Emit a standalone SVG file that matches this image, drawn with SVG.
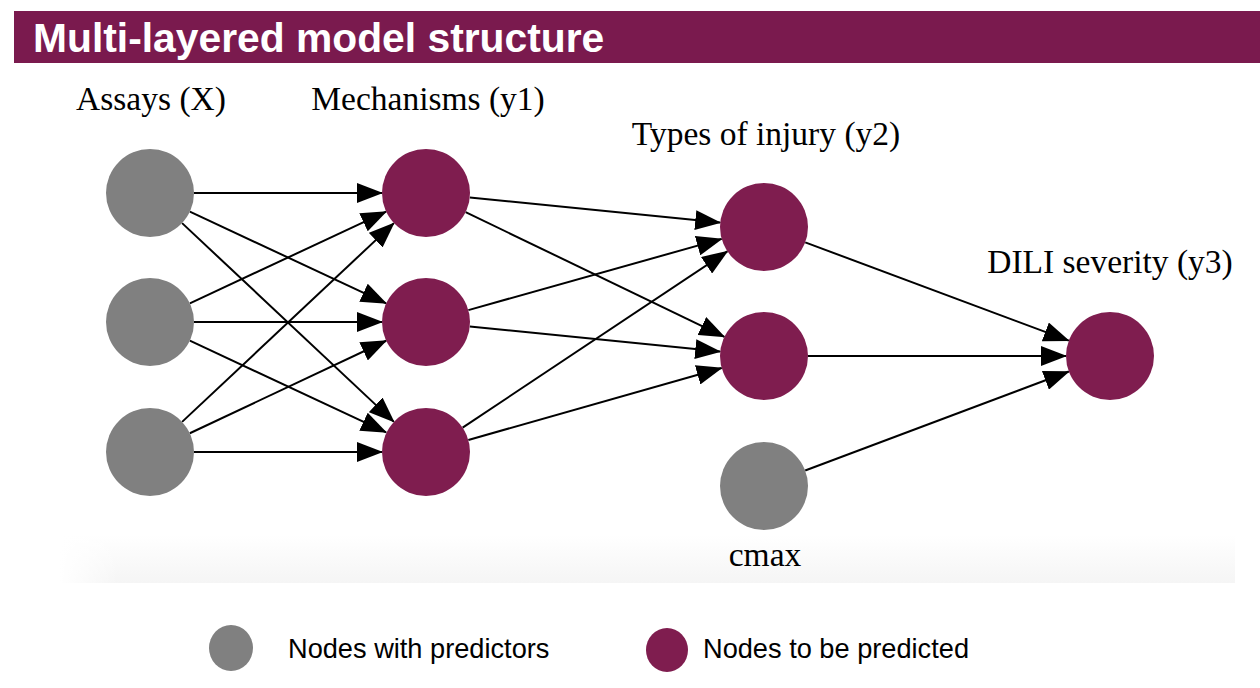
<svg xmlns="http://www.w3.org/2000/svg" width="1260" height="688" viewBox="0 0 1260 688">
<style>
.pred{fill:#7F1D4F}
.inp{fill:#808080}
.lbl{font-family:"Liberation Serif","Times New Roman",serif;font-size:33.5px;fill:#000;text-anchor:middle}
.leg{font-family:"Liberation Sans",Arial,sans-serif;font-size:27.2px;fill:#000}
.edge line{stroke:#000;stroke-width:2;marker-end:url(#ah)}
</style>
<defs>
<marker id="ah" markerUnits="userSpaceOnUse" markerWidth="26" markerHeight="20" viewBox="0 0 26 20" refX="25" refY="10" orient="auto">
<path d="M0,0 L26,10 L0,20 z" fill="#000"/>
</marker>
<linearGradient id="band" x1="0" y1="0" x2="0" y2="1">
<stop offset="0" stop-color="#ffffff"/>
<stop offset="1" stop-color="#f5f5f5"/>
</linearGradient>
<linearGradient id="fade" x1="0" y1="0" x2="1" y2="0">
<stop offset="0" stop-color="#ffffff" stop-opacity="1"/>
<stop offset="0.05" stop-color="#ffffff" stop-opacity="0"/>
</linearGradient>
</defs>
<rect width="1260" height="688" fill="#fff"/>
<rect x="60" y="535" width="1175" height="48" fill="url(#band)"/>
<rect x="60" y="535" width="1175" height="48" fill="url(#fade)"/>
<g id="header">
<rect x="14" y="11" width="1246" height="52" fill="#7A1A4E"/>
<text x="33" y="52" font-family="'Liberation Sans',Arial,sans-serif" font-weight="bold" font-size="40.8" fill="#fff">Multi-layered model structure</text>
</g>
<g id="labels">
<text class="lbl" x="151" y="110">Assays (X)</text>
<text class="lbl" x="428" y="110">Mechanisms (y1)</text>
<text class="lbl" x="766" y="145">Types of injury (y2)</text>
<text class="lbl" x="1110" y="273">DILI severity (y3)</text>
<text class="lbl" x="765" y="566">cmax</text>
</g>
<g id="connectors" class="edge">
<line x1="194" y1="193" x2="382" y2="193"/>
<line x1="189.86" y1="211.63" x2="386.14" y2="303.37"/>
<line x1="182.08" y1="223.11" x2="393.92" y2="421.89"/>
<line x1="189.86" y1="303.37" x2="386.14" y2="211.63"/>
<line x1="194" y1="322" x2="382" y2="322"/>
<line x1="189.86" y1="340.63" x2="386.14" y2="432.37"/>
<line x1="182.08" y1="421.89" x2="393.92" y2="223.11"/>
<line x1="189.81" y1="433.25" x2="386.19" y2="340.75"/>
<line x1="194" y1="452" x2="382" y2="452"/>
<line x1="469.78" y1="197.4" x2="720.22" y2="222.6"/>
<line x1="465.63" y1="212.11" x2="724.37" y2="336.89"/>
<line x1="468.36" y1="310.09" x2="721.64" y2="238.91"/>
<line x1="469.78" y1="326.4" x2="720.22" y2="351.6"/>
<line x1="462.63" y1="427.62" x2="727.37" y2="251.38"/>
<line x1="468.33" y1="439.98" x2="721.67" y2="367.98"/>
<line x1="805.23" y1="242.37" x2="1068.77" y2="340.63"/>
<line x1="808" y1="356" x2="1066" y2="356"/>
<line x1="805.19" y1="470.52" x2="1068.81" y2="371.48"/>
</g>
<g id="assay1"><circle class="inp" cx="150" cy="193" r="44"/></g>
<g id="assay2"><circle class="inp" cx="150" cy="322" r="44"/></g>
<g id="assay3"><circle class="inp" cx="150" cy="452" r="44"/></g>
<g id="mech1"><circle class="pred" cx="426" cy="193" r="44"/></g>
<g id="mech2"><circle class="pred" cx="426" cy="322" r="44"/></g>
<g id="mech3"><circle class="pred" cx="426" cy="452" r="44"/></g>
<g id="type1"><circle class="pred" cx="764" cy="227" r="44"/></g>
<g id="type2"><circle class="pred" cx="764" cy="356" r="44"/></g>
<g id="cmax"><circle class="inp" cx="764" cy="486" r="44"/></g>
<g id="dili"><circle class="pred" cx="1110" cy="356" r="44"/></g>
<g id="legend">
<ellipse class="inp" cx="231" cy="648" rx="22" ry="23"/>
<text class="leg" x="288" y="658">Nodes with predictors</text>
<ellipse class="pred" cx="667" cy="650" rx="21" ry="22"/>
<text class="leg" x="703" y="658">Nodes to be predicted</text>
</g>
</svg>
